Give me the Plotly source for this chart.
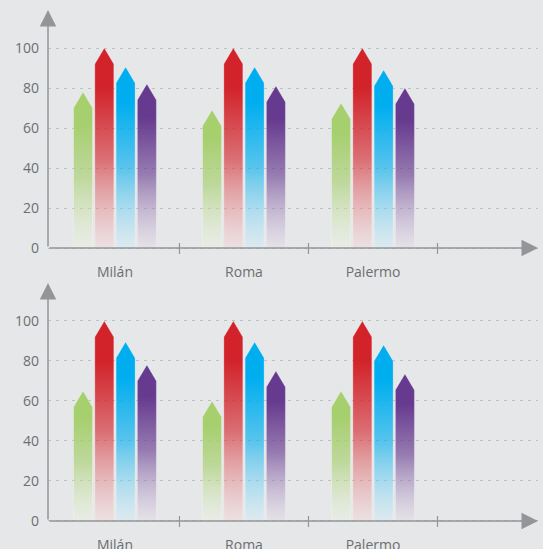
import plotly.graph_objects as go

# ---- data ----
categories = ["Milán", "Roma", "Palermo"]
series_names = ["Serie 1", "Serie 2", "Serie 3", "Serie 4"]
series_colors = ["#a6cf6e", "#d2232a", "#00aeef", "#663a8f"]

top_green = [78, 69, 72.5]
top_red = [100, 100, 100]
top_blue = [90.5, 90.5, 89]
top_purple = [82, 81, 80]

bottom_green = [65, 60, 65]
bottom_red = [100, 100, 100]
bottom_blue = [89.5, 89.5, 88]
bottom_purple = [78, 75, 73.5]

y_ticks = [0, 20, 40, 60, 80, 100]

panels = [
    [top_green, top_red, top_blue, top_purple],
    [bottom_green, bottom_red, bottom_blue, bottom_purple],
]

# ---- style ----
BG = "#e6e7e8"
AXIS = "#939598"
TEXT = "#6d6e71"
GRID = "#bfc0c2"
FONT = "Open Sans"

X0, X1 = -0.519, 3.279
Y0, Y1 = -3.5, 119
PITCH = 0.165
HALF_W = 0.0735
TIP = 8


def hex_rgb(h):
    h = h.lstrip("#")
    return tuple(int(h[i:i + 2], 16) for i in (0, 2, 4))


def grad_scale(h):
    r, g, b = hex_rgb(h)
    wr, wg, wb = (int(0.8 * 255 + 0.2 * c) for c in (r, g, b))
    return [
        [0.0, f"rgba({wr},{wg},{wb},0.35)"],
        [0.45, f"rgba({r},{g},{b},0.62)"],
        [0.8, f"rgba({r},{g},{b},1)"],
        [1.0, f"rgba({r},{g},{b},1)"],
    ]


fig = go.Figure()

domains = [[0.527, 1.0], [0.0, 0.473]]
for p, series in enumerate(panels):
    xa = "x" if p == 0 else "x2"
    ya = "y" if p == 0 else "y2"
    for k, vals in enumerate(series):
        for i, v in enumerate(vals):
            xc = i + (k - 1.5) * PITCH
            xl, xr = xc - HALF_W, xc + HALF_W
            sh = v - TIP
            fig.add_trace(go.Scatter(
                x=[xl, xl, xc, xr, xr, xl],
                y=[0, sh, v, sh, 0, 0],
                mode="lines",
                fill="toself",
                fillgradient=dict(type="vertical", colorscale=grad_scale(series_colors[k]),
                                  start=0, stop=v),
                line=dict(width=0.7, color="rgba(255,255,255,0.35)"),
                name=series_names[k],
                showlegend=False,
                hoverinfo="skip",
                xaxis=xa, yaxis=ya,
            ))

    # axis arrows
    fig.add_annotation(x=X0, y=Y1, ax=X0, ay=0, xref=xa, yref=ya, axref=xa, ayref=ya,
                       text="", showarrow=True, arrowhead=2, arrowsize=2.2,
                       arrowwidth=1.5, arrowcolor=AXIS)
    fig.add_annotation(x=X1, y=0, ax=X0, ay=0, xref=xa, yref=ya, axref=xa, ayref=ya,
                       text="", showarrow=True, arrowhead=2, arrowsize=2.2,
                       arrowwidth=1.5, arrowcolor=AXIS)
    # category separator ticks
    for i in range(len(categories)):
        fig.add_shape(type="line", x0=i + 0.5, x1=i + 0.5, y0=-3, y1=2.5,
                      xref=xa, yref=ya, line=dict(color=AXIS, width=1.2))

axis_common_x = dict(range=[X0, X1], tickvals=list(range(len(categories))),
                     ticktext=categories, ticks="", showgrid=False, zeroline=False,
                     showline=False, tickfont=dict(family=FONT, size=14, color=TEXT),
                     ticklabelstandoff=7, automargin=False)
axis_common_y = dict(range=[Y0, Y1], tickvals=y_ticks, ticks="", showgrid=True,
                     gridcolor=GRID, griddash="3px,5px", gridwidth=1, zeroline=False,
                     showline=False, tickfont=dict(family=FONT, size=14, color=TEXT),
                     ticklabelstandoff=8, automargin=False)

fig.update_layout(
    width=543, height=549,
    margin=dict(l=48, r=5, t=10, b=21),
    paper_bgcolor=BG, plot_bgcolor=BG,
    showlegend=False,
    xaxis=dict(domain=[0, 1], anchor="y", **axis_common_x),
    yaxis=dict(domain=domains[0], anchor="x", **axis_common_y),
    xaxis2=dict(domain=[0, 1], anchor="y2", **axis_common_x),
    yaxis2=dict(domain=domains[1], anchor="x2", **axis_common_y),
)

fig.write_html("out.html", config={"displayModeBar": False},
               post_script="document.body.style.margin='0';document.body.style.overflow='hidden';")
